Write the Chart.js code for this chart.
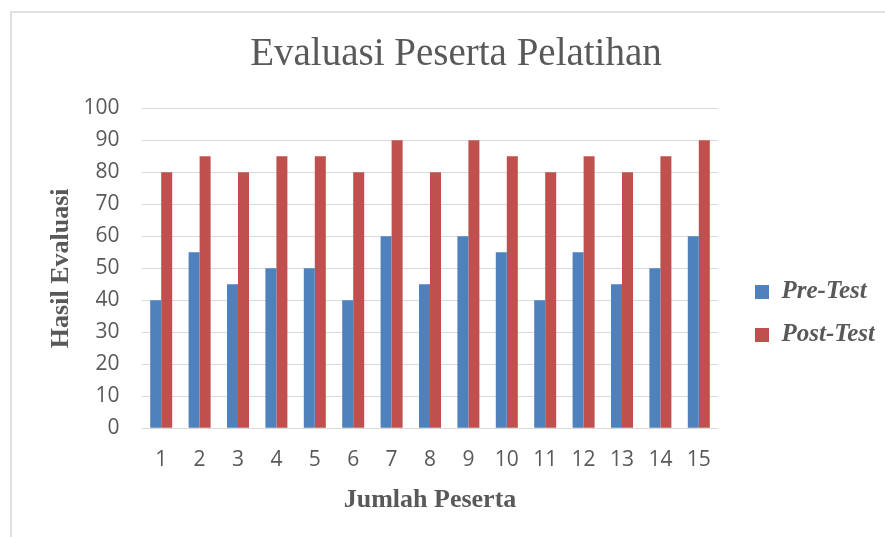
<!DOCTYPE html>
<html>
<head>
<meta charset="utf-8">
<script src="https://cdn.jsdelivr.net/npm/chart.js@4.4.1/dist/chart.umd.min.js"></script>
<style>
  html, body { margin: 0; padding: 0; background: #ffffff; }
  #frame { position: absolute; left: 10px; top: 11px; width: 900px; height: 600px; border: 2px solid #e0e0e0; box-sizing: border-box; }
  #wrap { position: absolute; left: 0; top: 0; width: 885px; height: 537px; }
</style>
</head>
<body>
<div id="frame"></div>
<div id="wrap"><canvas id="c" width="885" height="537"></canvas></div>
<script>
const categories = ['1','2','3','4','5','6','7','8','9','10','11','12','13','14','15'];
const preTest  = [40,55,45,50,50,40,60,45,60,55,40,55,45,50,60];
const postTest = [80,85,80,85,85,80,90,80,90,85,80,85,80,85,90];
const seriesNames = ['Pre-Test', 'Post-Test'];
const chartTitle = 'Evaluasi Peserta Pelatihan';
const xTitle = 'Jumlah Peserta';
const yTitle = 'Hasil Evaluasi';

const textColor = '#595959';
const serif = "'Liberation Serif', 'DejaVu Serif', serif";
const sans = "'Open Sans', 'Liberation Sans', sans-serif";

new Chart(document.getElementById('c'), {
  type: 'bar',
  data: {
    labels: categories,
    datasets: [
      { label: seriesNames[0], data: preTest, backgroundColor: '#4F81BD', borderWidth: 0 },
      { label: seriesNames[1], data: postTest, backgroundColor: '#C0504D', borderWidth: 0 }
    ]
  },
  options: {
    responsive: false,
    animation: false,
    devicePixelRatio: 1,
    layout: { padding: { left: 37, right: 10, top: 0, bottom: 0 } },
    datasets: { bar: { categoryPercentage: 0.573, barPercentage: 1.0 } },
    plugins: {
      tooltip: { enabled: false },
      title: {
        display: true,
        text: chartTitle,
        color: textColor,
        font: { family: serif, size: 39, weight: 'normal' },
        padding: { top: 31.7, bottom: 29.8 }
      },
      legend: {
        display: true,
        position: 'right',
        align: 'center',
        maxWidth: 138,
        title: { display: true, text: '', font: { size: 10, lineHeight: 1 }, padding: { top: 80, bottom: 0 } },
        labels: {
          boxWidth: 14,
          boxHeight: 14,
          padding: 18,
          color: textColor,
          font: { family: serif, size: 25, weight: 'bold', style: 'italic' }
        }
      }
    },
    scales: {
      x: {
        grid: { display: false, drawTicks: false },
        border: { display: false },
        ticks: { color: textColor, font: { family: sans, size: 21 }, padding: 19.1, maxRotation: 0 },
        title: {
          display: true, text: xTitle, color: textColor,
          font: { family: serif, size: 26, weight: 'bold' },
          padding: { top: 0, bottom: 21.4 }
        },
        afterFit: (s) => { s.height = 108.7; }
      },
      y: {
        min: 0, max: 100,
        grid: { color: '#d9d9d9', lineWidth: 1, drawTicks: false },
        border: { display: false },
        ticks: { stepSize: 10, color: textColor, font: { family: sans, size: 21 }, padding: 22.5 },
        title: {
          display: true, text: yTitle, color: textColor,
          font: { family: serif, size: 26, weight: 'bold' },
          padding: { top: 8.4, bottom: 0 }
        },
        afterFit: (s) => { s.width = 105; }
      },
      gap: {
        type: 'linear',
        position: 'right',
        display: true,
        grid: { display: false, drawTicks: false },
        border: { display: false },
        ticks: { display: false },
        afterFit: (s) => { s.width = 19; }
      }
    }
  }
});
</script>
</body>
</html>
